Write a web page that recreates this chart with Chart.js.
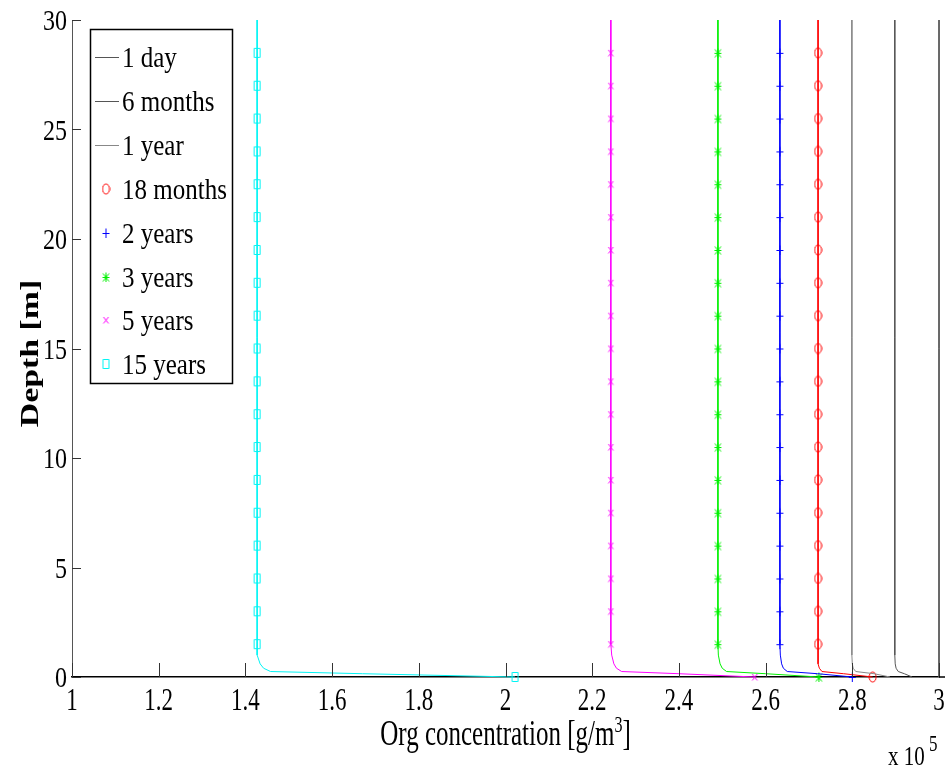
<!DOCTYPE html>
<html>
<head>
<meta charset="utf-8">
<script src="https://cdn.jsdelivr.net/npm/chart.js@4.4.1/dist/chart.umd.min.js"></script>
<style>
    html, body { margin: 0; padding: 0; background: #fff; }
    #wrap { width: 947px; height: 770px; position: relative; }
</style>
</head>
<body>
<div id="wrap"><canvas id="orgChart"></canvas></div>
<script>
// Org concentration vs depth, x in units of 1e5 g/m3
var depths = [30, 28.5, 27, 25.5, 24, 22.5, 21, 19.5, 18, 16.5, 15, 13.5, 12, 10.5, 9, 7.5, 6, 4.5, 3, 1.5, 1.0, 0.6, 0.4, 0.25, 0.15, 0];
var markerDepths = [28.5, 27, 25.5, 24, 22.5, 21, 19.5, 18, 16.5, 15, 13.5, 12, 10.5, 9, 7.5, 6, 4.5, 3, 1.5, 0];

var day1 = [3, 3, 3, 3, 3, 3, 3, 3, 3, 3, 3, 3, 3, 3, 3, 3, 3, 3, 3, 3, 3, 3, 3, 3, 3, 3];
var months6 = [2.898, 2.898, 2.898, 2.898, 2.898, 2.898, 2.898, 2.898, 2.898, 2.898, 2.898, 2.898, 2.898, 2.898, 2.898, 2.898, 2.898, 2.898, 2.898, 2.898, 2.898, 2.899, 2.901, 2.906, 2.92, 2.938];
var year1 = [2.799, 2.799, 2.799, 2.799, 2.799, 2.799, 2.799, 2.799, 2.799, 2.799, 2.799, 2.799, 2.799, 2.799, 2.799, 2.799, 2.799, 2.799, 2.799, 2.799, 2.799, 2.800, 2.802, 2.808, 2.85, 2.887];
var months18 = [2.721, 2.721, 2.721, 2.721, 2.721, 2.721, 2.721, 2.721, 2.721, 2.721, 2.721, 2.721, 2.721, 2.721, 2.721, 2.721, 2.721, 2.721, 2.721, 2.721, 2.721, 2.722, 2.724, 2.730, 2.78, 2.847];
var years2 = [2.633, 2.633, 2.633, 2.633, 2.633, 2.633, 2.633, 2.633, 2.633, 2.633, 2.633, 2.633, 2.633, 2.633, 2.633, 2.633, 2.633, 2.633, 2.633, 2.633, 2.634, 2.637, 2.641, 2.650, 2.72, 2.80];
var years3 = [2.490, 2.490, 2.490, 2.490, 2.490, 2.490, 2.490, 2.490, 2.490, 2.490, 2.490, 2.490, 2.490, 2.490, 2.490, 2.490, 2.490, 2.490, 2.490, 2.490, 2.491, 2.495, 2.500, 2.510, 2.60, 2.723];
var years5 = [2.243, 2.243, 2.243, 2.243, 2.243, 2.243, 2.243, 2.243, 2.243, 2.243, 2.243, 2.243, 2.243, 2.243, 2.243, 2.243, 2.243, 2.243, 2.243, 2.243, 2.245, 2.250, 2.256, 2.268, 2.40, 2.575];
var years15 = [1.427, 1.427, 1.427, 1.427, 1.427, 1.427, 1.427, 1.427, 1.427, 1.427, 1.427, 1.427, 1.427, 1.427, 1.427, 1.427, 1.427, 1.427, 1.427, 1.427, 1.429, 1.434, 1.442, 1.458, 1.67, 2.022];

var xTicks = [1, 1.2, 1.4, 1.6, 1.8, 2, 2.2, 2.4, 2.6, 2.8, 3];
var xTickLabels = ['1', '1.2', '1.4', '1.6', '1.8', '2', '2.2', '2.4', '2.6', '2.8', '3'];
var yTicks = [0, 5, 10, 15, 20, 25, 30];
var yTickLabels = ['0', '5', '10', '15', '20', '25', '30'];

var FONT = '"Liberation Serif", "DejaVu Serif", serif';

// small marker bitmaps, a bit taller than wide like the original figure
function makeMarker(kind, color) {
    var c = document.createElement('canvas');
    c.width = 9;
    c.height = 12;
    var g = c.getContext('2d');
    g.strokeStyle = color;
    g.lineWidth = 1;
    g.beginPath();
    if (kind === 'o') {
        g.ellipse(4.5, 6, 3.5, 5, 0, 0, Math.PI * 2);
    } else if (kind === '+') {
        g.moveTo(1, 6.5); g.lineTo(8, 6.5);
        g.moveTo(4.5, 1.5); g.lineTo(4.5, 11);
    } else if (kind === '*') {
        g.moveTo(1, 6.5); g.lineTo(8, 6.5);
        g.moveTo(4.5, 1.5); g.lineTo(4.5, 11);
        g.moveTo(1.5, 2.5); g.lineTo(7.5, 10.5);
        g.moveTo(7.5, 2.5); g.lineTo(1.5, 10.5);
    } else if (kind === 'x') {
        g.moveTo(2, 3); g.lineTo(7, 9.5);
        g.moveTo(7, 3); g.lineTo(2, 9.5);
    } else if (kind === 's') {
        g.rect(1.5, 1.5, 6, 9);
    }
    g.stroke();
    return c;
}

function series(label, values, color, marker) {
    var img = marker ? makeMarker(marker, color) : false;
    return {
        label: label,
        data: depths.map(function (d, i) { return { x: values[i], y: d }; }),
        borderColor: color,
        backgroundColor: color,
        borderWidth: 1,
        showLine: true,
        tension: 0,
        clip: false,
        pointStyle: img,
        pointRadius: function (ctx) {
            return marker && markerDepths.indexOf(depths[ctx.dataIndex]) >= 0 ? 4 : 0;
        },
        pointHoverRadius: 0,
        _marker: img
    };
}

function drawText(ctx, str, x, y, size, sy, align, bold) {
    ctx.save();
    ctx.translate(x, y);
    ctx.scale(1, sy);
    ctx.font = (bold ? 'bold ' : '') + size + 'px ' + FONT;
    ctx.textAlign = align;
    ctx.textBaseline = 'alphabetic';
    ctx.fillStyle = '#000';
    ctx.fillText(str, 0, 0);
    ctx.restore();
}

var decorPlugin = {
    id: 'matlabDecor',
    afterDraw: function (chart) {
        var ctx = chart.ctx;
        var xs = chart.scales.x, ys = chart.scales.y;
        var area = chart.chartArea;
        var i, p;

        // inward ticks + axis line running a little past the last tick
        ctx.save();
        ctx.strokeStyle = '#333';
        ctx.lineWidth = 1;
        ctx.beginPath();
        for (i = 0; i < xTicks.length; i++) {
            p = Math.round(xs.getPixelForValue(xTicks[i])) + 0.5;
            ctx.moveTo(p, area.bottom);
            ctx.lineTo(p, area.bottom - 14);
        }
        for (i = 0; i < yTicks.length; i++) {
            p = Math.round(ys.getPixelForValue(yTicks[i])) + 0.5;
            ctx.moveTo(area.left, p);
            ctx.lineTo(area.left + 9, p);
        }
        ctx.stroke();
        ctx.strokeStyle = '#000';
        ctx.lineWidth = 1.5;
        ctx.beginPath();
        ctx.moveTo(area.right, area.bottom);
        ctx.lineTo(area.right + 6, area.bottom);
        ctx.stroke();
        ctx.restore();

        // tick labels
        for (i = 0; i < xTicks.length; i++) {
            drawText(ctx, xTickLabels[i], xs.getPixelForValue(xTicks[i]), area.bottom + 33, 23, 1.4, 'center');
        }
        for (i = 0; i < yTicks.length; i++) {
            drawText(ctx, yTickLabels[i], area.left - 5, ys.getPixelForValue(yTicks[i]) + 10, 24, 1.25, 'right');
        }

        // axis titles
        var cx = (area.left + area.right) / 2;
        ctx.save();
        ctx.translate(cx, area.bottom + 68);
        ctx.scale(1, 1.4);
        ctx.font = '25px ' + FONT;
        ctx.fillStyle = '#000';
        ctx.textBaseline = 'alphabetic';
        var main = 'Org concentration [g/m', tail = ']';
        var wMain = ctx.measureText(main).width;
        ctx.font = '16px ' + FONT;
        var wSup = ctx.measureText('3').width;
        ctx.font = '25px ' + FONT;
        var wTail = ctx.measureText(tail).width;
        var x0 = -(wMain + wSup + wTail) / 2;
        ctx.textAlign = 'left';
        ctx.fillText(main, x0, 0);
        ctx.font = '16px ' + FONT;
        ctx.fillText('3', x0 + wMain, -9);
        ctx.font = '25px ' + FONT;
        ctx.fillText(tail, x0 + wMain + wSup, 0);
        ctx.restore();

        ctx.save();
        ctx.translate(38, (area.top + area.bottom) / 2 + 5);
        ctx.rotate(-Math.PI / 2);
        ctx.scale(1.3, 1);
        ctx.font = 'bold 26px ' + FONT;
        ctx.textAlign = 'center';
        ctx.textBaseline = 'alphabetic';
        ctx.fillStyle = '#000';
        ctx.fillText('Depth [m]', 0, 0);
        ctx.restore();

        // exponent note
        drawText(ctx, 'x 10', 888, 765, 21, 1.27, 'left');
        drawText(ctx, '5', 929, 751, 17, 1.3, 'left');

        // legend box
        var lx = 90, ly = 29, lw = 142, lh = 354;
        ctx.save();
        ctx.fillStyle = '#fff';
        ctx.fillRect(lx, ly, lw, lh);
        ctx.strokeStyle = '#000';
        ctx.lineWidth = 1.5;
        ctx.strokeRect(lx + 0.5, ly + 0.5, lw, lh);
        ctx.restore();

        var sets = chart.data.datasets;
        for (i = 0; i < sets.length; i++) {
            var yy = 57 + 43.9 * i;
            var ds = sets[i];
            if (ds._marker) {
                ctx.drawImage(ds._marker, 106 - 4.5, Math.round(yy) - 6);
            } else {
                ctx.save();
                ctx.strokeStyle = ds.borderColor;
                ctx.lineWidth = 1;
                ctx.beginPath();
                ctx.moveTo(95, Math.round(yy) + 0.5);
                ctx.lineTo(119, Math.round(yy) + 0.5);
                ctx.stroke();
                ctx.restore();
            }
            drawText(ctx, ds.label, 122, yy + 10, 25, 1.2, 'left');
        }
    }
};

new Chart(document.getElementById('orgChart').getContext('2d'), {
    type: 'scatter',
    data: {
        datasets: [
            series('1 day', day1, '#555555', null),
            series('6 months', months6, '#555555', null),
            series('1 year', year1, '#888888', null),
            series('18 months', months18, '#ff0000', 'o'),
            series('2 years', years2, '#0000ff', '+'),
            series('3 years', years3, '#00f000', '*'),
            series('5 years', years5, '#ff00ff', 'x'),
            series('15 years', years15, '#00f4f4', 's')
        ]
    },
    plugins: [decorPlugin],
    options: {
        responsive: true,
        maintainAspectRatio: false,
        animation: false,
        events: [],
        layout: { padding: { left: 72, right: 8, top: 20, bottom: 93 } },
        plugins: {
            legend: { display: false },
            tooltip: { enabled: false }
        },
        scales: {
            x: {
                type: 'linear',
                min: 1,
                max: 3,
                ticks: { display: false },
                grid: { display: false, drawTicks: false },
                border: { display: true, color: '#000', width: 1.5 },
                afterFit: function (scale) { scale.height = 0; }
            },
            y: {
                type: 'linear',
                min: 0,
                max: 30,
                ticks: { display: false },
                grid: { display: false, drawTicks: false },
                border: { display: true, color: '#555', width: 1 },
                afterFit: function (scale) { scale.width = 0; }
            }
        }
    }
});
</script>
</body>
</html>
